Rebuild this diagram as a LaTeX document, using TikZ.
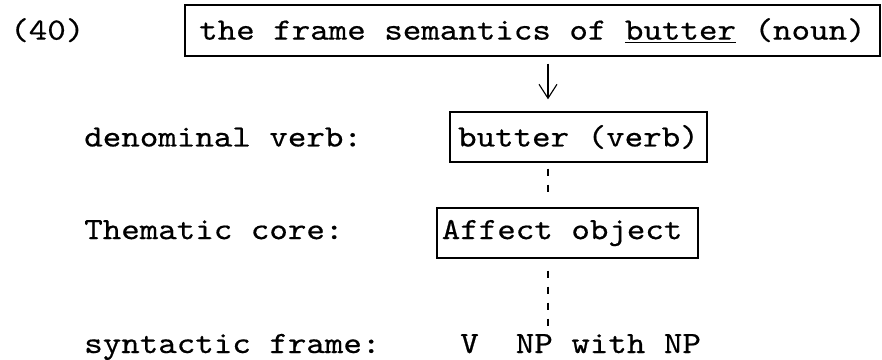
\documentclass[tikz,border=0pt]{standalone}
\usepackage{fontspec}
\newfontfamily\typewr[FakeStretch=1.14, FakeBold=0.5]{lmmono10-regular.otf}
\usepackage{tikz}
\usetikzlibrary{arrows.meta,positioning,calc}

\begin{document}
\begin{tikzpicture}[
      font=\typewr\fontsize{22pt}{26pt}\selectfont,
      box/.style={draw, line width=1pt, align=center, inner sep=0pt,
                  minimum height=12.5mm},
      lab/.style={inner sep=0pt, anchor=base west},
      link/.style={line width=0.8pt, dash pattern=on 1.75mm off 2.25mm},
      >={Straight Barb[length=3.5mm, width=4.5mm]}]

    \useasboundingbox (0mm,0mm) rectangle (220.5mm,-89.75mm);
    \coordinate (numcol) at (2.5mm,0mm);
    \coordinate (col) at (21mm,0mm);
    \coordinate (axis) at (137mm,0mm);

    \node[box, minimum width=173.75mm, minimum height=12.75mm] (noun)
      at (133.1mm,-7.6mm) {the frame semantics of \underline{butter} (noun)};
    \node[box, minimum width=64.25mm] (verb)
      at (144.6mm,-34.25mm) {butter (verb)};
    \node[box, minimum width=65.25mm] (core)
      at (141.9mm,-58.25mm) {Affect object\hspace{2.75mm}};
    \node[lab] (frame) at (115mm,-88.25mm) {V\ \ NP with NP};

    \node[lab] (exno) at (numcol |- noun.base) {(40)};
    \node[lab] (verblab) at (col |- verb.base) {denominal verb:};
    \node[lab] (corelab) at (col |- core.base) {Thematic core:};
    \node[lab] (framelab) at (col |- frame.base) {syntactic frame:};

    \draw[->, line width=0.8pt, shorten <=1.75mm, shorten >=3mm]
      (noun.south -| axis) -- (verb.north -| axis);
    \draw[link, shorten <=1.5mm, shorten >=2mm]
      (verb.south -| axis) -- (core.north -| axis);
    \draw[link, shorten <=3mm, shorten >=1.5mm]
      (core.south -| axis) -- (frame.north -| axis);
  \end{tikzpicture}
\end{document}
